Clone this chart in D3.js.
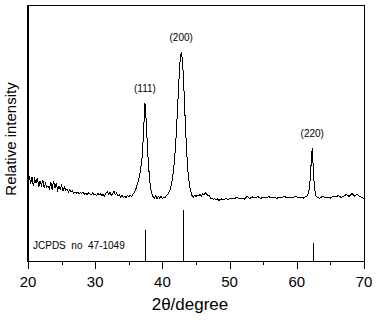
<!DOCTYPE html>
<html>
<head>
    <style>
        body { margin: 0; background: #fff; }
        svg text { font-family: "Liberation Sans", Arial, sans-serif; fill: #000; }
        .tick-label { font-size: 15px; }
        .axis-title { font-size: 17px; }
        .hkl { font-size: 10px; }
    </style>
    <script src="https://d3js.org/d3.v7.min.js"></script>
</head>
<body>
    <script>

        // measured scan: [2theta, counts]
        var scan = [
            [20.0,356],[20.1,316],[20.2,340],[20.4,308],[20.6,336],[20.8,300],[21.0,328],[21.2,312],
            [21.4,332],[21.6,296],[21.8,320],[22.0,304],[22.2,324],[22.4,292],[22.6,312],[22.8,296],
            [23.0,300],[23.2,288],[23.4,316],[23.6,284],[23.8,320],[24.0,292],[24.2,312],[24.4,284],
            [24.6,300],[24.8,288],[25.0,304],[25.2,280],[25.4,296],[25.6,284],[25.8,288],[26.0,276],
            [26.2,284],[26.4,276],[26.6,280],[26.8,272],[27.0,276],[27.2,272],[27.4,276],[27.6,270],
            [27.8,274],[28.0,270],[28.2,276],[28.4,268],[28.6,272],[28.8,266],[29.0,272],[29.2,268],
            [29.4,264],[29.6,272],[29.8,266],[30.0,268],[30.2,262],[30.4,270],[30.6,264],[30.8,268],
            [31.0,262],[31.2,266],[31.4,260],[31.6,272],[31.8,276],[32.0,266],[32.2,274],[32.4,262],
            [32.6,270],[32.8,280],[33.0,266],[33.2,272],[33.4,260],[33.6,264],[33.8,256],[34.0,262],
            [34.2,254],[34.4,260],[34.6,252],[34.8,262],[35.0,256],[35.2,262],[35.4,258],[35.6,266],
            [35.8,274],[36.0,284],[36.2,300],[36.4,320],[36.6,340],[36.8,376],[37.0,420],[37.2,520],
            [37.4,632],[37.6,560],[37.8,440],[38.0,360],[38.2,300],[38.4,272],[38.6,258],[38.8,252],
            [39.0,262],[39.2,250],[39.4,258],[39.6,252],[39.8,260],[40.0,250],[40.2,256],[40.4,254],
            [40.6,262],[40.8,268],[41.0,276],[41.2,290],[41.4,316],[41.6,350],[41.8,400],[42.0,480],
            [42.2,580],[42.4,690],[42.6,790],[42.8,836],[43.0,800],[43.2,690],[43.4,560],[43.6,440],
            [43.8,360],[44.0,310],[44.2,280],[44.4,262],[44.6,256],[44.8,262],[45.0,258],[45.2,264],
            [45.4,262],[45.6,266],[45.8,260],[46.0,268],[46.2,264],[46.4,272],[46.6,266],[46.8,262],
            [47.0,260],[47.2,250],[47.4,252],[47.6,246],[47.8,250],[48.0,244],[48.2,248],[48.4,242],
            [48.6,246],[48.8,248],[49.0,244],[49.4,250],[49.8,246],[50.2,252],[50.6,248],[51.0,254],
            [51.4,250],[51.8,252],[52.2,248],[52.6,258],[53.0,250],[53.4,256],[53.8,252],[54.2,258],
            [54.6,250],[55.0,256],[55.4,252],[55.8,258],[56.2,252],[56.6,256],[57.0,250],[57.4,256],
            [57.8,254],[58.2,258],[58.6,252],[59.0,256],[59.4,254],[59.8,258],[60.2,254],[60.6,256],
            [61.0,252],[61.4,258],[61.6,262],[61.8,280],[62.0,330],[62.2,420],[62.3,452],[62.4,400],
            [62.6,300],[62.8,262],[63.0,256],[63.4,250],[63.8,258],[64.2,254],[64.6,256],[65.0,252],
            [65.4,258],[65.8,256],[66.2,262],[66.6,254],[67.0,260],[67.4,266],[67.8,258],[68.2,270],
            [68.6,260],[69.0,266],[69.4,258],[69.8,252],[70.0,250]
        ];

        var hklLabels = ["(111)", "(200)", "(220)"];
        var hklAngle = [37.4, 42.8, 62.3];
        var hklCounts = [632, 836, 452];

        var jcpdsAngle = [37.4, 43.0, 62.4];
        var jcpdsRel = [61, 100, 35];
        var jcpdsName = "JCPDS  no  47-1049";

        var xTicks = [20, 30, 40, 50, 60, 70];
        var xMinor = [25, 35, 45, 55, 65];

        var width = 376,
            height = 320,
            m = { left: 28, right: 364, top: 5, bottom: 261 };

        var svg = d3.select("body").append("svg")
                    .attr("width", width).attr("height", height);

        var x = d3.scaleLinear().domain([20, 70]).range([m.left, m.right]);
        var y = d3.scaleLinear().domain([0, 1024]).range([m.bottom, m.top]);
        var stickY = d3.scaleLinear().domain([0, 100]).range([m.bottom, 210]);

        // frame
        svg.append("rect")
           .attr("x", m.left + 0.5).attr("y", m.top + 0.5)
           .attr("width", m.right - m.left).attr("height", m.bottom - m.top)
           .attr("fill", "none").attr("stroke", "#000").attr("stroke-width", 1);
        svg.append("line")
           .attr("x1", m.left).attr("x2", m.left).attr("y1", m.top).attr("y2", m.bottom + 1)
           .attr("stroke", "#000").attr("stroke-width", 2);

        // ticks
        svg.selectAll(".major").data(xTicks).enter().append("line")
           .attr("x1", d => Math.round(x(d)) + 0.5).attr("x2", d => Math.round(x(d)) + 0.5)
           .attr("y1", m.bottom).attr("y2", m.bottom + 8)
           .attr("stroke", "#000");
        svg.selectAll(".minor").data(xMinor).enter().append("line")
           .attr("x1", d => Math.round(x(d)) + 0.5).attr("x2", d => Math.round(x(d)) + 0.5)
           .attr("y1", m.bottom).attr("y2", m.bottom + 4)
           .attr("stroke", "#000");
        svg.selectAll(".tick-label").data(xTicks).enter().append("text")
           .attr("class", "tick-label")
           .attr("x", d => x(d)).attr("y", 287)
           .attr("text-anchor", "middle")
           .text(d => d);

        svg.append("text").attr("class", "axis-title")
           .attr("x", 190).attr("y", 310).attr("text-anchor", "middle")
           .text("2θ/degree");

        svg.append("text").attr("class", "axis-title")
           .style("font-size", "15px")
           .attr("transform", "translate(16,139) rotate(-90)")
           .attr("text-anchor", "middle")
           .text("Relative intensity");

        // scan line (aliased, like the original plot)
        var line = d3.line().x(d => x(d[0])).y(d => y(d[1]));
        svg.append("path").datum(scan)
           .attr("d", line)
           .attr("fill", "none").attr("stroke", "#000").attr("stroke-width", 1)
           .attr("shape-rendering", "crispEdges");

        // hkl labels
        svg.selectAll(".hkl").data(hklLabels).enter().append("text")
           .attr("class", "hkl")
           .attr("x", (d, i) => x(hklAngle[i])).attr("y", (d, i) => y(hklCounts[i]) - 11)
           .attr("text-anchor", "middle")
           .text(d => d);

        // reference pattern sticks
        svg.selectAll(".stick").data(jcpdsAngle).enter().append("line")
           .attr("x1", d => Math.round(x(d)) + 0.5).attr("x2", d => Math.round(x(d)) + 0.5)
           .attr("y1", m.bottom).attr("y2", (d, i) => stickY(jcpdsRel[i]))
           .attr("stroke", "#000");

        svg.append("text")
           .attr("x", 33).attr("y", 249)
           .style("font-size", "10px")
           .attr("xml:space", "preserve")
           .text(jcpdsName);
    </script>
</body>
</html>
